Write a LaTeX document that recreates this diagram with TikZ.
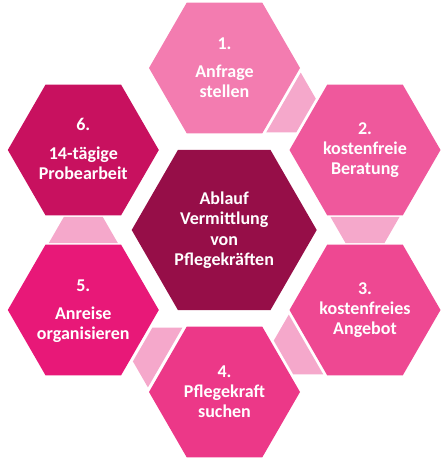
\documentclass[tikz,border=0pt]{standalone}
\usepackage{fontspec}
\setmainfont{Carlito}
\usetikzlibrary{shapes.geometric}
\definecolor{cOne}{RGB}{243,124,176}
\definecolor{cTwo}{RGB}{239,88,156}
\definecolor{cThree}{RGB}{238,72,146}
\definecolor{cFour}{RGB}{236,56,136}
\definecolor{cFive}{RGB}{232,24,120}
\definecolor{cSix}{RGB}{200,17,95}
\definecolor{cMid}{RGB}{150,14,72}
\definecolor{cCon}{RGB}{245,168,203}
\begin{document}
\begin{tikzpicture}[x=1bp,y=-1bp,
  hexo/.style={regular polygon, regular polygon sides=6, minimum size=151bp, inner sep=0pt, outer sep=0pt},
  hexc/.style={regular polygon, regular polygon sides=6, minimum size=185bp, inner sep=0pt, outer sep=0pt},
  lbl/.style={anchor=base, inner sep=0pt, text=white, font=\fontsize{18bp}{20bp}\selectfont\bfseries},
  conn/.style={fill=cCon}]
\useasboundingbox (0,0) rectangle (448,463);
% connectors
\fill[conn, shift={(294.75,109)}, rotate=60] (-34.5,-13) -- (34.5,-13) -- (19.5,13) -- (-19.5,13) -- cycle;
\fill[conn, shift={(365,230)}] (-34.5,-13) -- (34.5,-13) -- (19.5,13) -- (-19.5,13) -- cycle;
\fill[conn, shift={(294.75,351)}, rotate=-60] (-34.5,-13) -- (34.5,-13) -- (19.5,13) -- (-19.5,13) -- cycle;
\fill[conn, shift={(153.9,351)}, rotate=-120] (-34.5,-13) -- (34.5,-13) -- (19.5,13) -- (-19.5,13) -- cycle;
\fill[conn, shift={(83.3,230)}, rotate=180] (-34.5,-13) -- (34.5,-13) -- (19.5,13) -- (-19.5,13) -- cycle;
% hexagons
\node[hexc, fill=cMid] (hc) at (224.2,230) {};
\node[hexo, fill=cOne] (h1) at (224.5,68) {};
\node[hexo, fill=cTwo] (h2) at (365,150) {};
\node[hexo, fill=cThree] (h3) at (365,310) {};
\node[hexo, fill=cFour] (h4) at (224.5,392) {};
\node[hexo, fill=cFive] (h5) at (83.3,310) {};
\node[hexo, fill=cSix] (h6) at (83.3,150) {};
% labels
\node[lbl] (tc) at (224.2,205) {\begin{tabular}[t]{@{}c@{}}Ablauf\\ Vermittlung\\ von\\ Pflegekräften\end{tabular}};
\node[lbl] (t1) at (224.5,49.3) {\begin{tabular}[t]{@{}c@{}}1.\\[8bp] Anfrage\\ stellen\end{tabular}};
\node[lbl] (t2) at (365,135) {\begin{tabular}[t]{@{}c@{}}2.\\ kostenfreie\\ Beratung\end{tabular}};
\node[lbl] (t3) at (365,294.7) {\begin{tabular}[t]{@{}c@{}}3.\\ kostenfreies\\ Angebot\end{tabular}};
\node[lbl] (t4) at (224.5,377) {\begin{tabular}[t]{@{}c@{}}4.\\ Pflegekraft\\ suchen\end{tabular}};
\node[lbl] (t5) at (83.3,291.3) {\begin{tabular}[t]{@{}c@{}}5.\\[8bp] Anreise\\ organisieren\end{tabular}};
\node[lbl] (t6) at (83.3,130.7) {\begin{tabular}[t]{@{}c@{}}6.\\[8.5bp] 14-tägige\\ Probearbeit\end{tabular}};
\end{tikzpicture}
\end{document}
